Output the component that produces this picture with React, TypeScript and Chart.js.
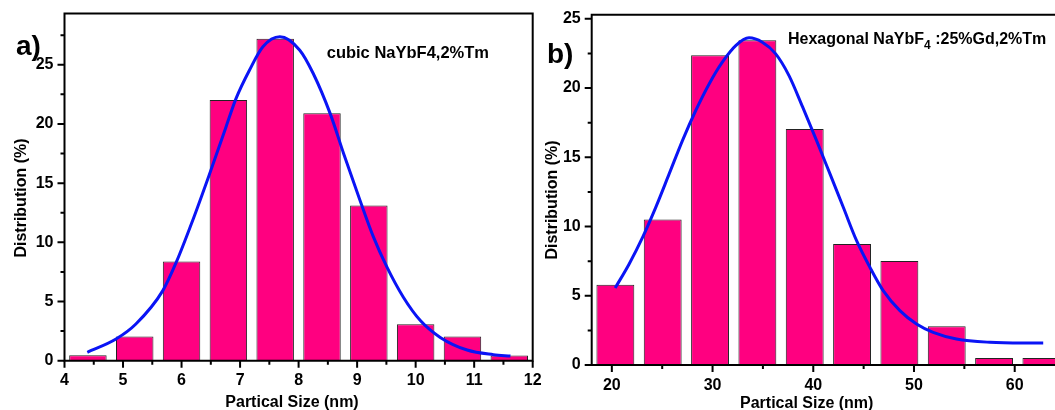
import React, { useEffect, useRef } from 'react';
import { Chart, registerables } from 'chart.js';

Chart.register(...registerables);

const FONT = "'Liberation Sans', Arial, Helvetica, sans-serif";

// ---- Panel a) cubic NaYbF4,2%Tm ----
const sizeA = [4.4, 5.2, 6.0, 6.8, 7.6, 8.4, 9.2, 10.0, 10.8, 11.6];
const distA = [0.45, 2.05, 8.38, 22.03, 27.2, 20.9, 13.12, 3.07, 2.04, 0.43];
const fitAX = [4.39, 4.88, 5.22, 5.68, 5.91, 6.19, 6.48, 6.76, 6.93, 7.16, 7.39, 7.68, 8.02, 8.25, 8.54, 8.77, 9.05, 9.28, 9.51, 9.79, 10.08, 10.42, 10.88, 11.33, 11.62];
const fitAY = [0.71, 1.83, 3.1, 5.92, 8.32, 11.85, 15.8, 19.75, 22.14, 24.54, 26.52, 27.36, 26.23, 24.26, 20.87, 17.49, 13.54, 10.44, 7.9, 5.36, 3.39, 1.97, 0.9, 0.51, 0.39];
const xMajorA = [4, 5, 6, 7, 8, 9, 10, 11, 12];
const xMinorA = [4.5, 5.5, 6.5, 7.5, 8.5, 9.5, 10.5, 11.5];
const yMajorA = [0, 5, 10, 15, 20, 25];
const yMinorA = [2.5, 7.5, 12.5, 17.5, 22.5, 27.5];

// ---- Panel b) Hexagonal NaYbF4:25%Gd,2%Tm ----
const sizeB = [20.35, 25.05, 29.75, 34.45, 39.15, 43.85, 48.55, 53.25, 57.95, 62.65];
const distB = [5.8, 10.5, 22.37, 23.46, 17.05, 8.74, 7.51, 2.79, 0.51, 0.51];
const fitBX = [20.33, 21.72, 23.05, 24.36, 25.69, 27.01, 28.33, 29.66, 30.97, 32.3, 33.62, 34.94, 36.27, 37.59, 38.95, 40.33, 41.66, 42.98, 44.3, 45.62, 46.94, 48.6, 50.25, 51.9, 54.22, 57.53, 60.84, 62.83];
const fitBY = [5.56, 7.3, 9.22, 11.39, 13.8, 16.21, 18.38, 20.3, 21.87, 23.07, 23.63, 23.31, 22.47, 20.9, 18.62, 16.21, 13.8, 11.39, 8.98, 7.06, 5.37, 3.93, 2.96, 2.36, 1.88, 1.64, 1.59, 1.59];
const xMajorB = [20, 30, 40, 50, 60];
const xMinorB = [25, 35, 45, 55];
const yMajorB = [0, 5, 10, 15, 20, 25];
const yMinorB = [2.5, 7.5, 12.5, 17.5, 22.5];

const xTitle = 'Partical Size (nm)';
const yTitle = 'Distribution (%)';

type Panel = {
  width: number;
  height: number;
  sizes: number[];
  dist: number[];
  fitX: number[];
  fitY: number[];
  xMin: number;
  xMax: number;
  yMax: number;
  xMajor: number[];
  xMinor: number[];
  yMajor: number[];
  yMinor: number[];
  areaLeft: number;
  areaTop: number;
  areaRight: number;
  areaBottom: number;
  xPad: number;
  rightBorder: boolean;
  letter: string;
  letterX: number;
  letterY: number;
  yTitleX: number;
  yTitleY: number;
  xTitleX: number;
  xTitleY: number;
  drawLabel: (ctx: CanvasRenderingContext2D) => void;
};

const panelA: Panel = {
  width: 550,
  height: 410,
  sizes: sizeA,
  dist: distA,
  fitX: fitAX,
  fitY: fitAY,
  xMin: 4,
  xMax: 12,
  yMax: 29.33,
  xMajor: xMajorA,
  xMinor: xMinorA,
  yMajor: yMajorA,
  yMinor: yMinorA,
  areaLeft: 64.5,
  areaTop: 13.5,
  areaRight: 532.7,
  areaBottom: 360.7,
  xPad: 10,
  rightBorder: true,
  letter: 'a)',
  letterX: 16,
  letterY: 55,
  yTitleX: 21.5,
  yTitleY: 198,
  xTitleX: 292,
  xTitleY: 407,
  drawLabel: (ctx) => {
    ctx.font = `bold 16.5px ${FONT}`;
    ctx.textAlign = 'left';
    ctx.textBaseline = 'alphabetic';
    ctx.fillText('cubic NaYbF4,2%Tm', 326.7, 58);
  },
};

const panelB: Panel = {
  width: 515,
  height: 410,
  sizes: sizeB,
  dist: distB,
  fitX: fitBX,
  fitY: fitBY,
  xMin: 18,
  xMax: 64,
  yMax: 25.3,
  xMajor: xMajorB,
  xMinor: xMinorB,
  yMajor: yMajorB,
  yMinor: yMinorB,
  areaLeft: 51.7,
  areaTop: 14.7,
  areaRight: 515,
  areaBottom: 365,
  xPad: 10.5,
  rightBorder: false,
  letter: 'b)',
  letterX: 7,
  letterY: 63,
  yTitleX: 12.5,
  yTitleY: 200,
  xTitleX: 266.7,
  xTitleY: 407.5,
  drawLabel: (ctx) => {
    ctx.textAlign = 'left';
    ctx.textBaseline = 'alphabetic';
    let x = 248;
    const base = 44;
    ctx.font = `bold 16px ${FONT}`;
    const a = 'Hexagonal NaYbF';
    ctx.fillText(a, x, base);
    x += ctx.measureText(a).width;
    ctx.font = `bold 12px ${FONT}`;
    ctx.fillText('4', x, base + 5);
    x += ctx.measureText('4').width;
    ctx.font = `bold 16px ${FONT}`;
    ctx.fillText(' :25%Gd,2%Tm', x, base);
  },
};

function buildChart(canvas: HTMLCanvasElement, p: Panel) {
  const tickFont = { family: FONT, size: 16, weight: 'bold' as const };
  const decor = {
    id: 'decor',
    afterDraw(chart: any) {
      const ctx: CanvasRenderingContext2D = chart.ctx;
      const { left, top, right, bottom } = chart.chartArea;
      const xs = chart.scales.x;
      const ys = chart.scales.y;
      ctx.save();
      ctx.strokeStyle = '#000';
      ctx.lineWidth = 2;
      ctx.beginPath();
      if (p.rightBorder) {
        ctx.rect(left, top, right - left, bottom - top);
      } else {
        ctx.moveTo(right + 2, top);
        ctx.lineTo(left, top);
        ctx.lineTo(left, bottom);
        ctx.lineTo(right + 2, bottom);
      }
      ctx.stroke();
      ctx.beginPath();
      p.xMajor.forEach((v) => {
        const px = xs.getPixelForValue(v);
        ctx.moveTo(px, bottom);
        ctx.lineTo(px, bottom + 7);
      });
      p.xMinor.forEach((v) => {
        const px = xs.getPixelForValue(v);
        ctx.moveTo(px, bottom);
        ctx.lineTo(px, bottom + 4);
      });
      p.yMajor.forEach((v) => {
        const py = ys.getPixelForValue(v);
        ctx.moveTo(left, py);
        ctx.lineTo(left - 7, py);
      });
      p.yMinor.forEach((v) => {
        const py = ys.getPixelForValue(v);
        ctx.moveTo(left, py);
        ctx.lineTo(left - 4, py);
      });
      ctx.stroke();

      ctx.fillStyle = '#000';
      // axis titles
      ctx.font = `bold 16px ${FONT}`;
      ctx.textAlign = 'center';
      ctx.textBaseline = 'alphabetic';
      ctx.fillText(xTitle, p.xTitleX, p.xTitleY);
      ctx.save();
      ctx.translate(p.yTitleX, p.yTitleY);
      ctx.rotate(-Math.PI / 2);
      ctx.textBaseline = 'middle';
      ctx.fillText(yTitle, 0, 0);
      ctx.restore();
      // panel letter
      ctx.font = `bold 28px ${FONT}`;
      ctx.textAlign = 'left';
      ctx.textBaseline = 'alphabetic';
      ctx.fillText(p.letter, p.letterX, p.letterY);
      // sample label
      p.drawLabel(ctx);
      ctx.restore();
    },
  };

  return new Chart(canvas, {
    type: 'bar',
    data: {
      datasets: [
        {
          type: 'line',
          data: p.fitX.map((x, i) => ({ x, y: p.fitY[i] })),
          borderColor: '#0a14f5',
          borderWidth: 3,
          pointRadius: 0,
          cubicInterpolationMode: 'monotone',
          fill: false,
          order: 0,
        } as any,
        {
          type: 'bar',
          data: p.sizes.map((x, i) => ({ x, y: p.dist[i] })),
          backgroundColor: '#ff0080',
          borderColor: '#222222',
          borderWidth: 1,
          barPercentage: 0.8,
          categoryPercentage: 1.0,
          order: 1,
        } as any,
      ],
    },
    options: {
      responsive: false,
      animation: false,
      devicePixelRatio: 1,
      layout: {
        padding: {
          left: 0,
          top: p.areaTop,
          right: p.width - p.areaRight,
          bottom: 0,
        },
      },
      plugins: {
        legend: { display: false },
        tooltip: { enabled: false },
      },
      scales: {
        x: {
          type: 'linear',
          min: p.xMin,
          max: p.xMax,
          offset: false,
          grid: { display: false, drawTicks: false },
          border: { display: false },
          ticks: {
            font: tickFont,
            color: '#000',
            padding: p.xPad,
            autoSkip: false,
            maxRotation: 0,
            callback: (v: any) => String(v),
          },
          afterBuildTicks: (s: any) => {
            s.ticks = p.xMajor.map((v) => ({ value: v }));
          },
          afterFit: (s: any) => {
            s.height = p.height - p.areaBottom;
            s.paddingLeft = 0;
            s.paddingRight = 0;
          },
        },
        y: {
          type: 'linear',
          min: 0,
          max: p.yMax,
          grid: { display: false, drawTicks: false },
          border: { display: false },
          ticks: {
            font: tickFont,
            color: '#000',
            padding: 11,
            autoSkip: false,
            callback: (v: any) => String(v),
          },
          afterBuildTicks: (s: any) => {
            s.ticks = p.yMajor.map((v) => ({ value: v }));
          },
          afterFit: (s: any) => {
            s.width = p.areaLeft;
            s.paddingTop = 0;
            s.paddingBottom = 0;
          },
        },
      },
    } as any,
    plugins: [decor],
  });
}

function PanelChart({ p, left }: { p: Panel; left: number }) {
  const ref = useRef<HTMLCanvasElement | null>(null);
  useEffect(() => {
    if (!ref.current) return;
    const chart = buildChart(ref.current, p);
    return () => chart.destroy();
  }, [p]);
  return (
    <canvas
      ref={ref}
      width={p.width}
      height={p.height}
      style={{ position: 'absolute', left, top: 0, width: p.width, height: p.height }}
    />
  );
}

export default function App() {
  return (
    <div
      style={{
        position: 'absolute',
        left: 0,
        top: 0,
        width: 1055,
        height: 410,
        background: '#fff',
        overflow: 'hidden',
      }}
    >
      <PanelChart p={panelA} left={0} />
      <PanelChart p={panelB} left={540} />
    </div>
  );
}
